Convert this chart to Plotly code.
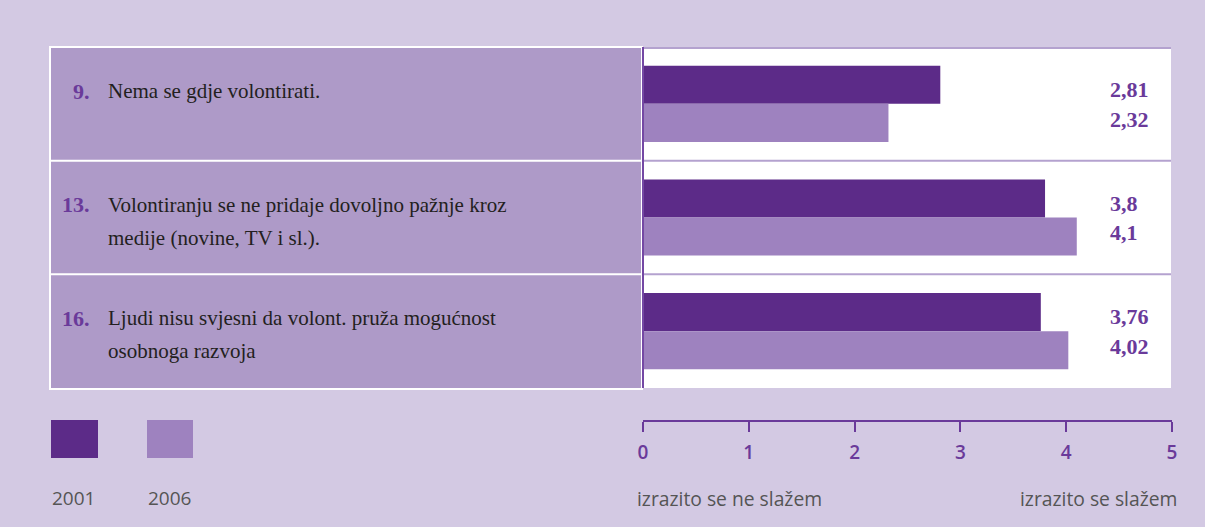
import plotly.graph_objects as go

# data
numbers = ["9.", "13.", "16."]
statements = [
    ["Nema se gdje volontirati."],
    ["Volontiranju se ne pridaje dovoljno pažnje kroz", "medije (novine, TV i sl.)."],
    ["Ljudi nisu svjesni da volont. pruža mogućnost", "osobnoga razvoja"],
]
years = ["2001", "2006"]
values_2001 = [2.81, 3.8, 3.76]
values_2006 = [2.32, 4.1, 4.02]
value_labels_2001 = ["2,81", "3,8", "3,76"]
value_labels_2006 = ["2,32", "4,1", "4,02"]
tick_vals = [0, 1, 2, 3, 4, 5]
scale_left = "izrazito se ne slažem"
scale_right = "izrazito se slažem"

W, H = 1205, 527
BG = "#d3c9e3"
PANEL = "#ae9ac8"
DARK = "#5c2b88"
LIGHT = "#9e82bf"
PURPLE = "#6a3a9a"
GRAY = "#555555"


def px_x(p):
    return p / W


def px_y(p):
    return 1 - p / H


rows = list(range(len(numbers)))

fig = go.Figure()
fig.add_trace(go.Bar(y=rows, x=values_2001, orientation="h", name=years[0],
                     marker=dict(color=DARK, line=dict(width=0))))
fig.add_trace(go.Bar(y=rows, x=values_2006, orientation="h", name=years[1],
                     marker=dict(color=LIGHT, line=dict(width=0))))

shapes = []
# left label panel
shapes.append(dict(type="rect", xref="paper", yref="paper", x0=px_x(50), x1=px_x(642),
                   y0=px_y(389), y1=px_y(47), fillcolor=PANEL,
                   line=dict(color="white", width=2), layer="below"))
# white plot panel
shapes.append(dict(type="rect", xref="paper", yref="paper", x0=px_x(643), x1=px_x(1171),
                   y0=px_y(388), y1=px_y(47), fillcolor="white", line=dict(width=0),
                   layer="below"))
# top border of plot panel
shapes.append(dict(type="line", xref="paper", yref="paper", x0=px_x(643), x1=px_x(1171),
                   y0=px_y(48), y1=px_y(48), line=dict(color="#b4a2cf", width=2)))
# row dividers
for r in rows[:-1]:
    shapes.append(dict(type="line", xref="paper", yref="y", x0=px_x(50), x1=px_x(642),
                       y0=r + 0.5, y1=r + 0.5, line=dict(color="white", width=2)))
    shapes.append(dict(type="line", xref="paper", yref="y", x0=px_x(643), x1=px_x(1171),
                       y0=r + 0.5, y1=r + 0.5, line=dict(color="#b4a2cf", width=2)))
# vertical divider
shapes.append(dict(type="line", xref="paper", yref="paper", x0=px_x(643), x1=px_x(643),
                   y0=px_y(388), y1=px_y(47), line=dict(color="#7448a4", width=2)))
# legend swatches
shapes.append(dict(type="rect", xref="paper", yref="paper", x0=px_x(51), x1=px_x(98),
                   y0=px_y(458), y1=px_y(420), fillcolor=DARK, line=dict(width=0)))
shapes.append(dict(type="rect", xref="paper", yref="paper", x0=px_x(147), x1=px_x(193),
                   y0=px_y(458), y1=px_y(420), fillcolor=LIGHT, line=dict(width=0)))

annotations = []
serif = "Liberation Serif"
for r in rows:
    annotations.append(dict(xref="paper", yref="y", x=px_x(92), y=r - 0.5, yanchor="middle",
                            xanchor="right", yshift=-44, text="<b>%s</b>" % numbers[r],
                            showarrow=False, font=dict(family=serif, size=22, color=PURPLE)))
    for i, line in enumerate(statements[r]):
        annotations.append(dict(xref="paper", yref="y", x=px_x(106), y=r - 0.5,
                                yanchor="middle", xanchor="left", yshift=-44 - 33 * i,
                                text=line, showarrow=False,
                                font=dict(family=serif, size=21, color="#231f20")))
    annotations.append(dict(xref="paper", yref="y", x=px_x(1108), y=r - 0.125,
                            xanchor="left", yanchor="middle", text="<b>%s</b>" % value_labels_2001[r],
                            showarrow=False, font=dict(family=serif, size=22, color=PURPLE)))
    annotations.append(dict(xref="paper", yref="y", x=px_x(1108), y=r + 0.135,
                            xanchor="left", yanchor="middle", text="<b>%s</b>" % value_labels_2006[r],
                            showarrow=False, font=dict(family=serif, size=22, color=PURPLE)))

sans = "Open Sans"
annotations.append(dict(xref="paper", yref="paper", x=px_x(50), y=px_y(498), xanchor="left",
                        yanchor="middle", text=years[0], showarrow=False,
                        font=dict(family=sans, size=19, color=GRAY)))
annotations.append(dict(xref="paper", yref="paper", x=px_x(146), y=px_y(498), xanchor="left",
                        yanchor="middle", text=years[1], showarrow=False,
                        font=dict(family=sans, size=19, color=GRAY)))
annotations.append(dict(xref="paper", yref="paper", x=px_x(635), y=px_y(498), xanchor="left",
                        yanchor="middle", text=scale_left, showarrow=False,
                        font=dict(family=sans, size=19.3, color=GRAY)))
annotations.append(dict(xref="paper", yref="paper", x=px_x(1179), y=px_y(498), xanchor="right",
                        yanchor="middle", text=scale_right, showarrow=False,
                        font=dict(family=sans, size=19.3, color=GRAY)))

fig.update_layout(
    width=W, height=H, autosize=False,
    margin=dict(l=0, r=0, t=0, b=0, pad=0),
    paper_bgcolor=BG, plot_bgcolor="rgba(0,0,0,0)",
    barmode="group", bargap=0.33, bargroupgap=0,
    showlegend=False,
    shapes=shapes, annotations=annotations,
    xaxis=dict(domain=[px_x(643), px_x(1172)], range=[0, 5], tickvals=tick_vals,
               showgrid=False, zeroline=False, showline=True, linecolor=PURPLE, linewidth=2,
               ticks="outside", ticklen=10, tickwidth=2, tickcolor=PURPLE,
               anchor="free", position=px_y(421), automargin=False, ticklabelstandoff=4,
               tickfont=dict(family=sans, size=19, color=PURPLE, weight=600)),
    yaxis=dict(domain=[px_y(388), px_y(47)], range=[2.5, -0.5], showgrid=False,
               zeroline=False, showticklabels=False, fixedrange=True, automargin=False),
)

fig.write_html("out.html", config={"responsive": False, "displayModeBar": False},
               post_script="document.body.style.margin='0';"
                           "document.body.style.background='%s';" % BG)
